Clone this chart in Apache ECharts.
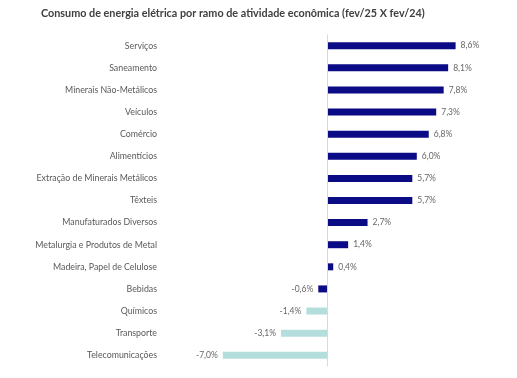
<!DOCTYPE html>
<html><head><meta charset="utf-8">
<script src="https://cdn.jsdelivr.net/npm/echarts@6/dist/echarts.min.js"></script>
<style>html,body{margin:0;padding:0;background:#fff}#c{width:517px;height:378px}</style>
</head><body><div id="c"></div>
<script>
const title = 'Consumo de energia elétrica por ramo de atividade econômica (fev/25 X fev/24)';
const categories = ['Serviços','Saneamento','Minerais Não-Metálicos','Veículos','Comércio','Alimentícios','Extração de Minerais Metálicos','Têxteis','Manufaturados Diversos','Metalurgia e Produtos de Metal','Madeira, Papel de Celulose','Bebidas','Químicos','Transporte','Telecomunicações'];
const values = [8.6, 8.1, 7.8, 7.3, 6.8, 6.0, 5.7, 5.7, 2.7, 1.4, 0.4, -0.6, -1.4, -3.1, -7.0];
const lightCategories = ['Químicos','Transporte','Telecomunicações'];

const NAVY = '#0b0b86', TEAL = '#b4dedc';
const FONT = 'Lato';
const chart = echarts.init(document.getElementById('c'), null, {renderer: 'canvas'});
const cats = categories.slice().reverse();
const vals = values.slice().reverse();
chart.setOption({
  animation: false,
  title: {text: title, left: 36, top: 3, textStyle: {fontFamily: FONT, fontSize: 10.8, fontWeight: 'bold', color: '#404040'}},
  grid: {left: 178, right: 40.5, top: 34.7, bottom: 11.7, containLabel: false},
  xAxis: {type: 'value', min: -10, max: 10, show: false},
  yAxis: {type: 'category', data: cats, position: 'left',
    axisLine: {show: false, onZero: false}, axisTick: {show: false},
    axisLabel: {margin: 21, fontFamily: FONT, fontSize: 8.8, color: '#595959'}},
  series: [{
    type: 'bar', barWidth: 7,
    data: vals.map((v, i) => ({value: v, itemStyle: {color: lightCategories.includes(cats[i]) ? TEAL : NAVY},
      label: {position: v >= 0 ? 'right' : 'left'}})),
    label: {show: true, distance: 5, fontFamily: FONT, fontSize: 8.5, color: '#666666',
      formatter: p => p.value.toFixed(1).replace('.', ',') + '%'},
    markLine: {silent: true, symbol: 'none', label: {show: false},
      lineStyle: {color: '#d9d9d9', width: 1, type: 'solid'},
      data: [{xAxis: 0}]}
  }]
});
</script></body></html>
